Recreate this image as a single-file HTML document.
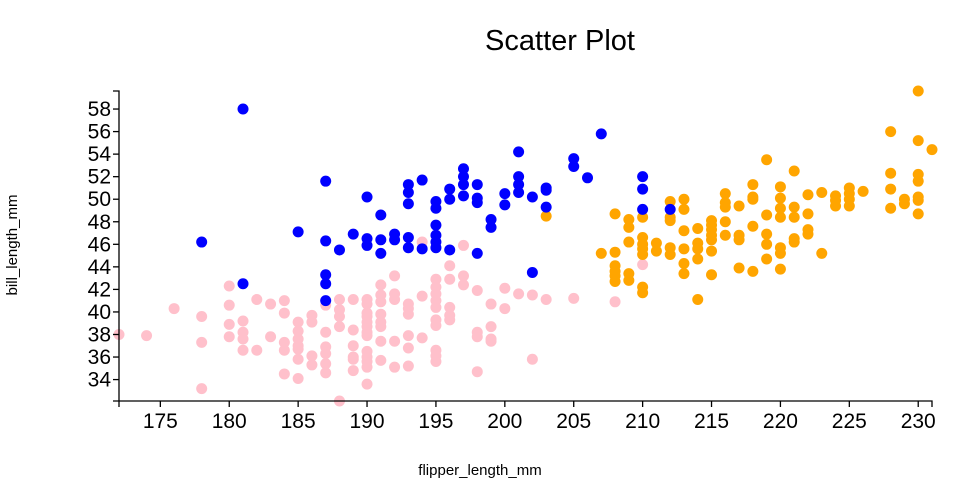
<!DOCTYPE html>
<html><head><meta charset="utf-8"><style>
body{margin:0;background:#fff;}
svg{display:block;font-family:"Liberation Sans",sans-serif;}
</style></head><body>
<svg id="chart" width="960" height="500" xmlns="http://www.w3.org/2000/svg">
<text x="560" y="50" text-anchor="middle" font-size="29" fill="#000">Scatter Plot</text>
<text x="480" y="475" text-anchor="middle" font-size="15" fill="#000">flipper_length_mm</text>
<text transform="translate(17,245) rotate(-90)" text-anchor="middle" font-size="15" fill="#000">bill_length_mm</text>
<g id="marks"></g>
<g id="axes"></g>
</svg>
<script>
const adelieFlipper=[172,174,176,178,178,178,180,180,180,180,181,181,181,181,182,182,183,183,184,184,184,184,184,185,185,185,185,185,185,185,186,186,186,186,187,187,187,187,187,187,188,188,188,188,188,189,189,189,189,189,189,190,190,190,190,190,190,190,190,190,190,190,190,190,191,191,191,191,191,191,191,191,192,192,192,192,192,193,193,193,193,193,193,194,194,195,195,195,195,195,195,195,195,195,195,196,196,196,196,196,197,197,198,198,198,198,199,199,199,199,200,200,201,202,202,203,205,208,210,194,197];
const adelieBill=[38.0,37.9,40.3,39.6,37.3,33.2,42.3,40.6,38.9,37.8,39.2,38.2,37.6,36.6,41.1,36.6,40.7,37.8,41.0,39.9,37.3,36.6,34.5,39.1,38.3,37.6,37.0,36.7,35.8,34.1,39.7,39.1,36.1,35.3,40.6,38.2,36.9,36.3,35.4,34.6,41.1,40.2,39.6,38.7,32.1,41.1,38.4,37.0,36.0,35.8,34.8,41.1,40.7,39.9,39.6,39.1,38.7,38.2,37.9,36.5,36.0,35.6,35.1,33.6,42.4,41.5,40.9,39.8,39.1,38.7,37.4,35.7,43.2,41.6,41.1,37.4,35.1,40.7,40.3,39.8,37.9,36.8,35.2,41.4,37.7,42.9,42.2,41.6,41.0,40.4,39.3,38.8,36.6,36.1,35.6,44.1,42.9,40.4,39.7,39.3,43.2,42.4,41.9,38.2,37.8,34.7,40.7,38.7,37.6,37.4,42.1,40.3,41.6,41.5,35.8,41.1,41.2,40.9,44.2,46.2,45.9];
const gentooFlipper=[203,207,208,208,208,208,208,208,209,209,209,209,209,210,210,210,210,210,210,210,211,211,212,212,212,212,212,213,213,213,213,213,213,214,214,214,214,214,215,215,215,215,215,215,215,216,216,216,216,216,217,217,217,217,218,218,218,218,218,219,219,219,219,219,220,220,220,220,220,220,220,221,221,221,221,221,222,222,222,222,223,223,224,224,224,225,225,225,225,226,228,228,228,228,229,229,230,230,230,230,230,230,230,231];
const gentooBill=[48.5,45.2,48.7,45.3,44.1,43.6,43.2,42.7,48.2,47.5,46.2,43.4,42.8,48.4,46.6,46.0,45.6,45.1,42.2,41.7,46.1,45.4,49.8,48.4,48.1,45.7,45.1,50.0,49.1,47.2,45.6,44.3,43.4,47.4,46.1,45.6,44.7,41.1,48.1,47.7,47.3,46.8,46.4,45.4,43.3,50.5,49.7,49.3,48.0,46.8,49.4,46.8,46.4,43.9,51.3,50.2,50.0,47.6,43.6,53.5,48.6,46.9,46.0,44.7,51.1,50.1,49.2,48.4,45.7,45.2,43.8,52.5,49.3,48.4,46.5,46.2,50.4,48.7,47.3,46.9,50.6,45.2,50.3,49.9,49.4,51.0,50.5,50.0,49.4,50.7,56.0,52.3,50.9,49.2,50.0,49.6,59.6,55.2,52.2,51.6,50.2,49.9,48.7,54.4];
const chinstrapFlipper=[181,178,181,185,187,187,187,187,187,188,189,190,190,190,191,191,191,192,192,193,193,193,193,193,194,194,195,195,195,195,195,195,196,196,196,197,197,197,197,198,198,198,198,199,199,200,200,201,201,201,201,202,202,203,203,203,205,205,206,207,210,210,210,212];
const chinstrapBill=[58.0,46.2,42.5,47.1,51.6,46.3,43.3,42.5,41.0,45.5,46.9,50.2,46.5,45.9,48.6,46.4,45.2,46.9,46.4,51.3,50.6,49.6,46.6,45.7,51.7,45.6,49.8,49.2,47.7,46.8,46.2,45.7,50.9,50.0,45.5,52.7,52.0,51.3,50.3,51.3,50.1,49.7,45.2,48.2,47.5,50.5,49.5,54.2,52.0,51.3,50.6,50.2,43.5,51.0,50.8,49.3,53.6,52.9,51.9,55.8,52.0,50.9,49.1,49.1];
const xTicks=[175,180,185,190,195,200,205,210,215,220,225,230];
const yTicks=[34,36,38,40,42,44,46,48,50,52,54,56,58];
const xDomain=[172,231], yDomain=[32.1,59.6];
const L=119,R=932,T=91,B=401;
const xs=v=>L+(v-xDomain[0])/(xDomain[1]-xDomain[0])*(R-L);
const ys=v=>B-(v-yDomain[0])/(yDomain[1]-yDomain[0])*(B-T);
const NS="http://www.w3.org/2000/svg";
const marks=document.getElementById('marks'), axes=document.getElementById('axes');
function mk(tag,attrs,parent){const e=document.createElementNS(NS,tag);for(const k in attrs)e.setAttribute(k,attrs[k]);parent.appendChild(e);return e;}
function series(fx,by,color,name){
  for(let i=0;i<fx.length;i++){
    const c=mk('circle',{cx:xs(fx[i]),cy:ys(by[i]),r:5.5,fill:color},marks);
    
    
  }
}
series(adelieFlipper,adelieBill,'#FFC0CB','point-adelie');
series(gentooFlipper,gentooBill,'#FFA500','point-gentoo');
series(chinstrapFlipper,chinstrapBill,'#0000FF','point-chinstrap');
// axes
const xa=mk('path',{d:`M${L},${B+6}V${B}H${R}V${B+6}`,stroke:'#000',fill:'none','stroke-width':1.3},axes);


const ya=mk('path',{d:`M${L-6},${T}H${L}V${B}H${L-6}`,stroke:'#000',fill:'none','stroke-width':1.3},axes);


xTicks.forEach(t=>{
  const x=xs(t);
  const tk=mk('line',{x1:x,x2:x,y1:B,y2:B+6,stroke:'#000','stroke-width':1.3},axes);
  
  
  const lb=mk('text',{x:x,y:B+27,'text-anchor':'middle','font-size':21,fill:'#000'},axes);
  lb.textContent=t;
  
  
});
yTicks.forEach(t=>{
  const y=ys(t);
  const tk=mk('line',{x1:L-6,x2:L,y1:y,y2:y,stroke:'#000','stroke-width':1.3},axes);
  
  
  const lb=mk('text',{x:L-8,y:y+7,'text-anchor':'end','font-size':21,fill:'#000'},axes);
  lb.textContent=t;
  
  
});
</script>
</body></html>
